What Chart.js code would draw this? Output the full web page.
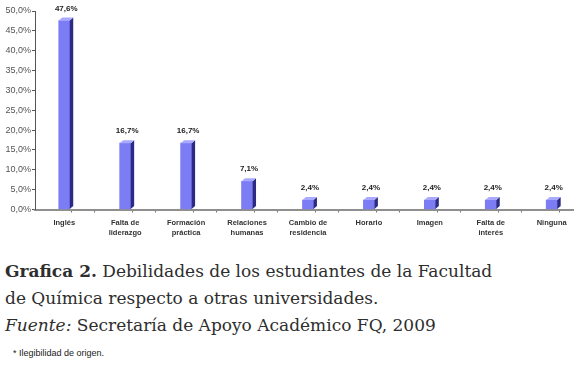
<!DOCTYPE html>
<html>
<head>
<meta charset="utf-8">
<script src="https://cdn.jsdelivr.net/npm/chart.js@4/dist/chart.umd.min.js"></script>
<style>
  body { margin: 0; background: #fff; width: 578px; height: 375px; overflow: hidden; position: relative; }
  #wrap { position: absolute; left: 0; top: 0; width: 578px; height: 244px; }
  .cap { position: absolute; left: 5px; top: 258px; font-family: "DejaVu Serif", serif;
         font-size: 17px; line-height: 27px; color: #2e2e2e; white-space: nowrap; }
  .note { position: absolute; left: 13px; top: 348px; font-family: "Liberation Sans", Arial, sans-serif; font-size: 9px; color: #222; }
</style>
</head>
<body>
<div id="wrap"><canvas id="chart"></canvas></div>
<div class="cap"><b>Grafica 2.</b> Debilidades de los estudiantes de la Facultad<br>de Química respecto a otras universidades.<br><i>Fuente:</i> Secretaría de Apoyo Académico FQ, 2009</div>
<div class="note">* Ilegibilidad de origen.</div>
<script>
const categories = ['Inglés', ['Falta de', 'liderazgo'], ['Formación', 'práctica'], ['Relaciones', 'humanas'],
    ['Cambio de', 'residencia'], 'Horario', 'Imagen', ['Falta de', 'interés'], 'Ninguna'];
const percents = [47.6, 16.7, 16.7, 7.1, 2.4, 2.4, 2.4, 2.4, 2.4];
const yTicks = { min: 0, max: 50, step: 5 };

const fmt = v => v.toFixed(1).replace('.', ',') + '%';

// fake 3d: side, top face and the value label over each bar
const bars3d = {
    id: 'bars3d',
    afterDatasetsDraw(chart) {
        const ctx = chart.ctx;
        const meta = chart.getDatasetMeta(0);
        const dx = 3.5, dy = 3;
        ctx.save();
        meta.data.forEach((bar, i) => {
            const l = bar.x - bar.width / 2;
            const r = bar.x + bar.width / 2;
            ctx.fillStyle = '#2b2b86';
            ctx.beginPath();
            ctx.moveTo(r, bar.y);
            ctx.lineTo(r + dx, bar.y - dy);
            ctx.lineTo(r + dx, bar.base - dy);
            ctx.lineTo(r, bar.base);
            ctx.closePath();
            ctx.fill();
            ctx.fillStyle = '#a9a9ff';
            ctx.beginPath();
            ctx.moveTo(l, bar.y);
            ctx.lineTo(l + dx, bar.y - dy);
            ctx.lineTo(r + dx, bar.y - dy);
            ctx.lineTo(r, bar.y);
            ctx.closePath();
            ctx.fill();

            ctx.fillStyle = '#222';
            ctx.font = 'bold 8px "Liberation Sans", Arial, sans-serif';
            ctx.textAlign = 'center';
            ctx.textBaseline = 'alphabetic';
            ctx.fillText(fmt(percents[i]), bar.x + 2, bar.y - dy - 7);
        });
        ctx.restore();
    }
};

new Chart(document.getElementById('chart'), {
    type: 'bar',
    data: {
        datasets: [{
            data: percents.map((v, i) => ({ x: i, y: v })),
            backgroundColor: '#7c7cf4',
            barThickness: 11
        }]
    },
    options: {
        responsive: true,
        maintainAspectRatio: false,
        animation: false,
        layout: { padding: { top: 11, right: 5, left: 0, bottom: 0 } },
        plugins: { legend: { display: false }, tooltip: { enabled: false } },
        scales: {
            x: {
                type: 'linear',
                min: -0.31,
                max: 8.18,
                afterBuildTicks: s => {
                    const t = [];
                    categories.forEach((c, i) => {
                        t.push({ value: i });
                        t.push({ value: i + 0.25 });
                        if (i + 0.75 < 8.18) t.push({ value: i + 0.75 });
                    });
                    s.ticks = t;
                },
                ticks: {
                    autoSkip: false,
                    maxRotation: 0,
                    minRotation: 0,
                    padding: 6,
                    color: '#333',
                    font: { family: '"Liberation Sans", Arial, sans-serif', size: 7.5, weight: 'bold', lineHeight: 1.3 },
                    callback: v => Number.isInteger(v) ? categories[v] : ''
                },
                grid: {
                    drawOnChartArea: false,
                    tickLength: 3,
                    color: c => (c.tick && !Number.isInteger(c.tick.value)) ? '#777' : 'rgba(0,0,0,0)'
                },
                border: { color: '#8f8f8f', width: 2 }
            },
            y: {
                min: yTicks.min,
                max: yTicks.max,
                afterFit: s => { s.width = 35; },
                ticks: {
                    stepSize: yTicks.step,
                    padding: 1,
                    color: '#555',
                    font: { family: '"Liberation Sans", Arial, sans-serif', size: 9 },
                    callback: v => fmt(v)
                },
                grid: { drawOnChartArea: false, tickLength: 3, color: '#555' },
                border: { color: '#555', width: 1 }
            }
        }
    },
    plugins: [bars3d]
});
</script>
</body>
</html>
